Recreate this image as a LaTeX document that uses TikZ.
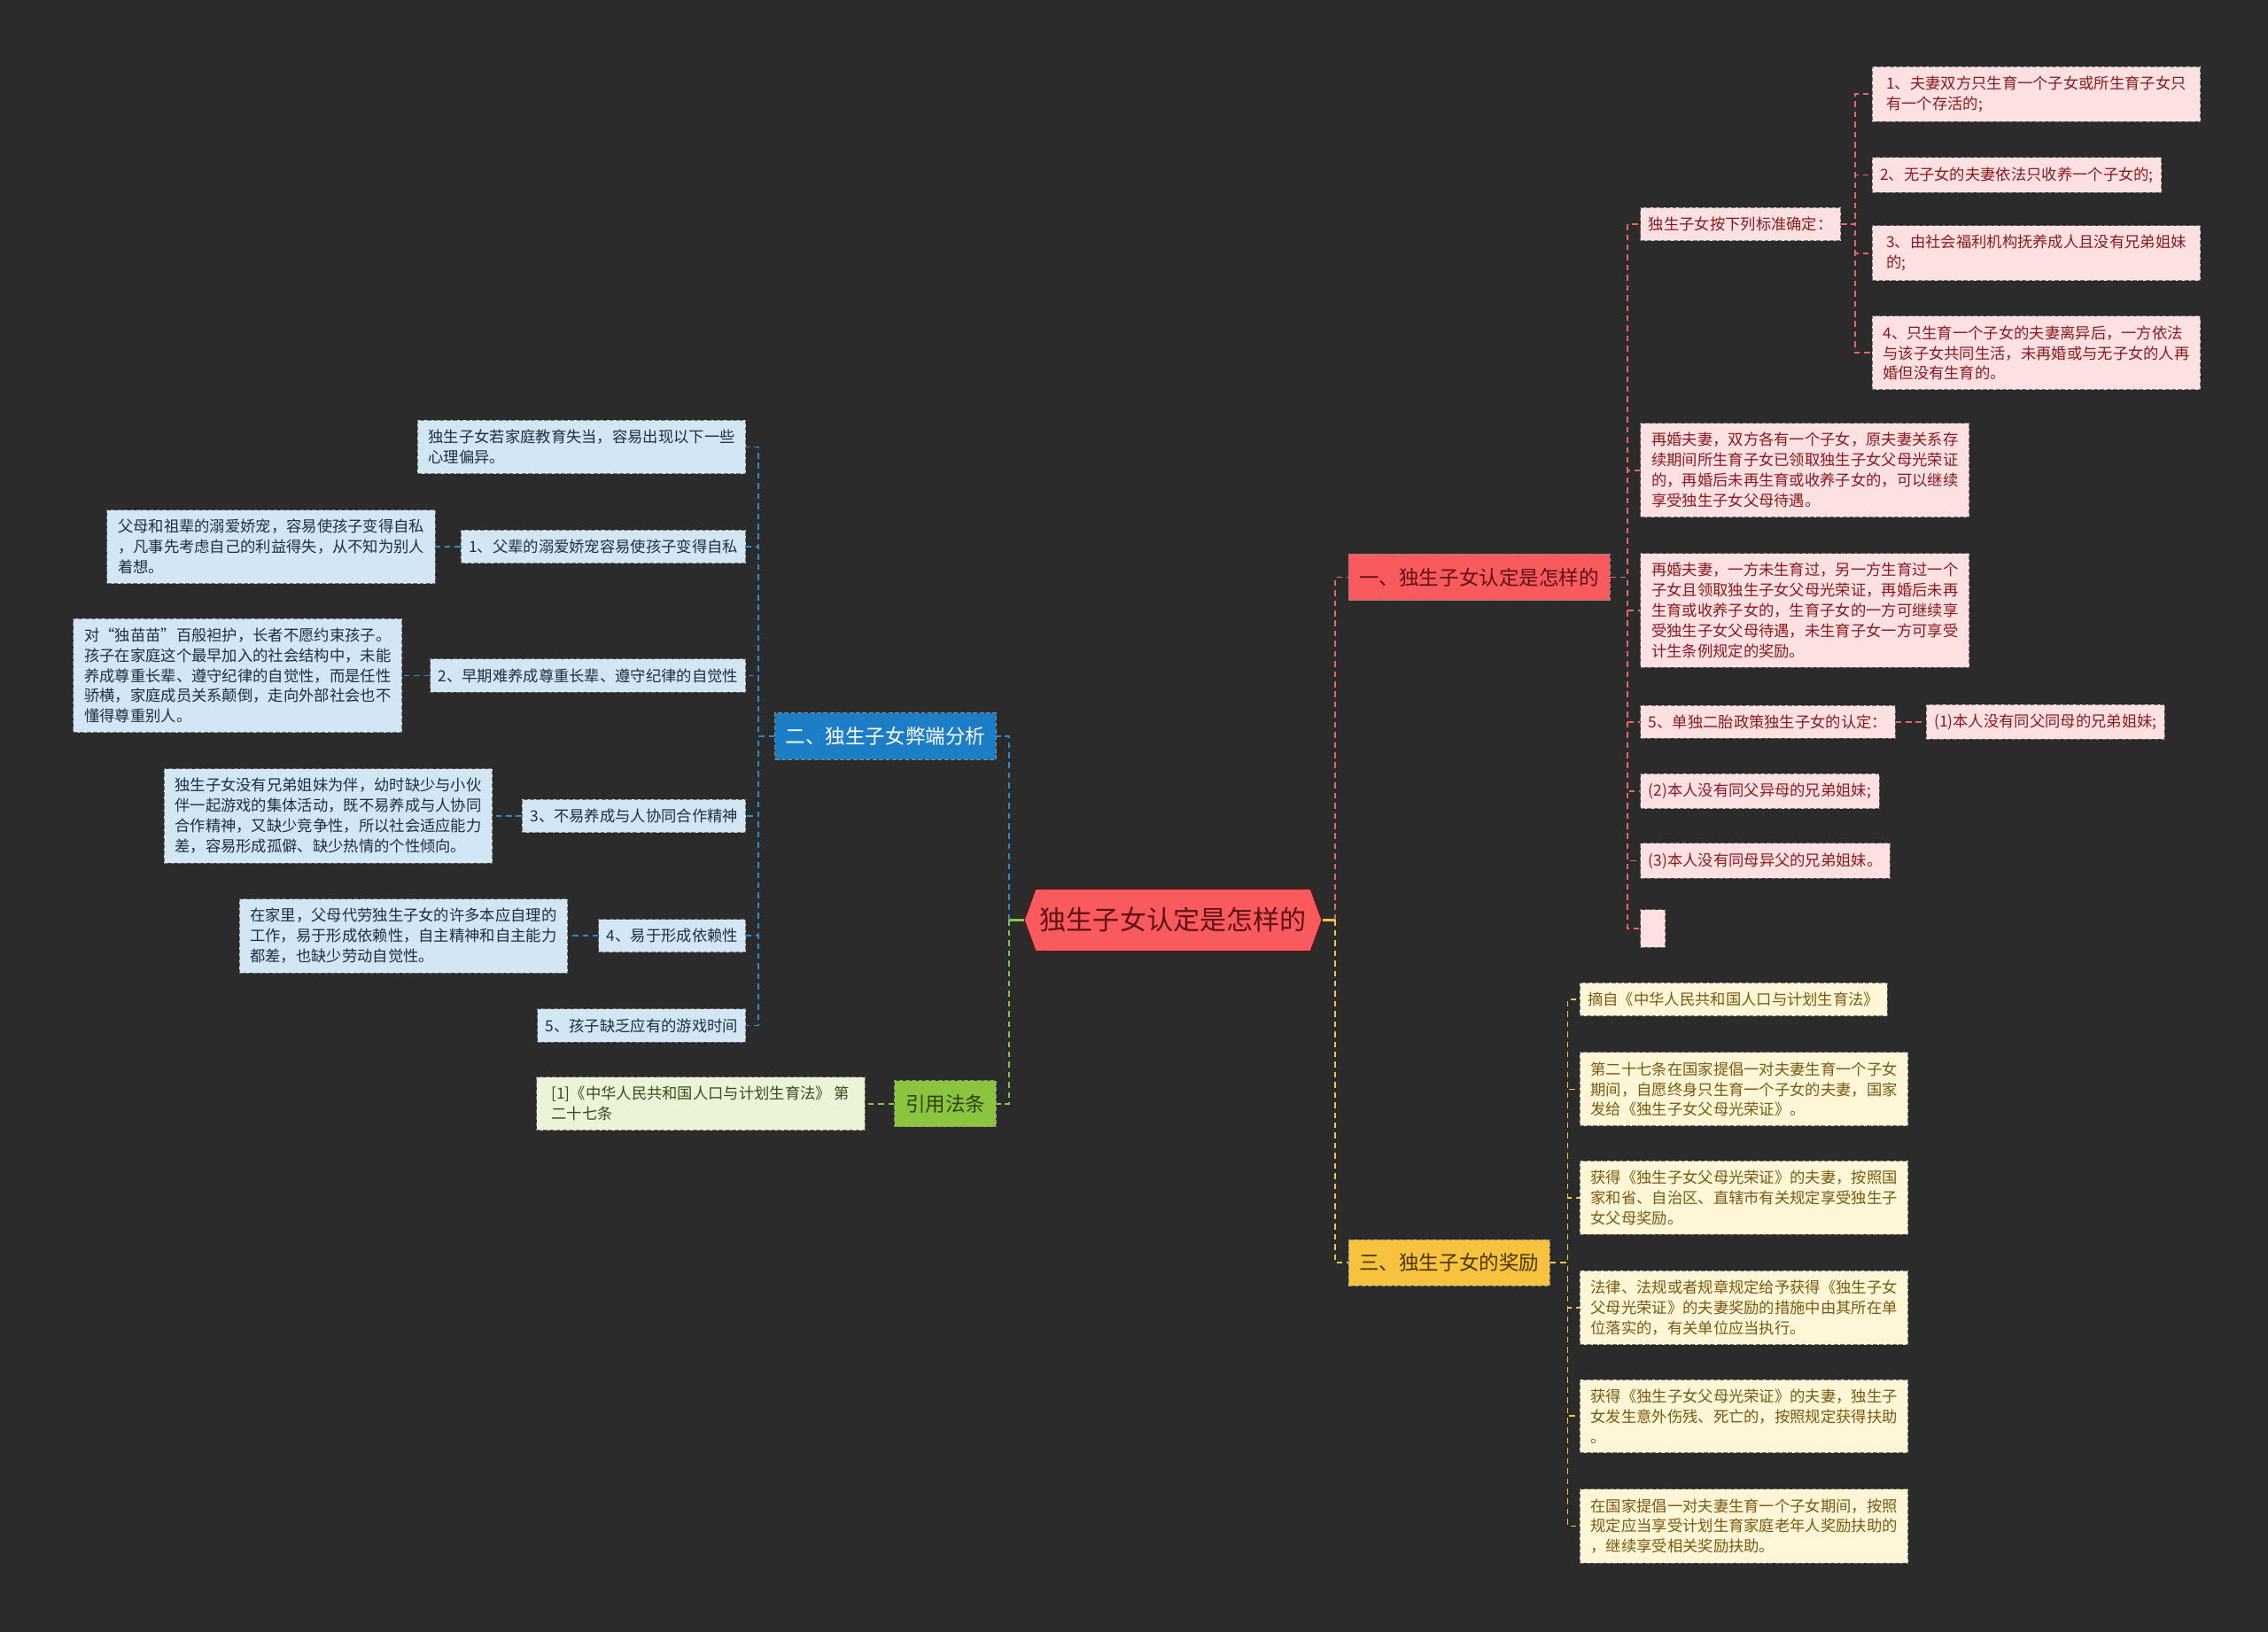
\documentclass[tikz,border=0pt]{standalone}
\usepackage{fontspec}
\setmainfont{Noto Sans CJK SC}
\usetikzlibrary{positioning,shapes.symbols}

\definecolor{bgdark}{HTML}{2B2B2B}
\definecolor{redfill}{HTML}{F85A5E}
\definecolor{redtext}{HTML}{5E1013}
\definecolor{pinkfill}{HTML}{FDE1E2}
\definecolor{pinktext}{HTML}{8C1A1D}
\definecolor{bluefill}{HTML}{1C7EC6}
\definecolor{lbluefill}{HTML}{D3E6F3}
\definecolor{bluetext}{HTML}{1F2F3F}
\definecolor{yelfill}{HTML}{F7C23E}
\definecolor{yeltext}{HTML}{4A3500}
\definecolor{lyelfill}{HTML}{FFF6D8}
\definecolor{lyeltext}{HTML}{7A5A10}
\definecolor{grnfill}{HTML}{8BC43F}
\definecolor{grntext}{HTML}{2F4010}
\definecolor{lgrnfill}{HTML}{EBF4D8}
\definecolor{lgrntext}{HTML}{3A4A20}
\definecolor{linkred}{HTML}{EE6464}
\definecolor{linkblue}{HTML}{2B8BD3}
\definecolor{linkyel}{HTML}{F3C44A}
\definecolor{linkgrn}{HTML}{8BC43F}

\begin{document}
\begin{tikzpicture}[
  x=1pt, y=-1pt,
  leaf/.style={draw=black!55, dash pattern=on 3pt off 1.5pt, line width=0.6pt,
               align=left, inner xsep=5.5pt, inner ysep=6.5pt,
               font=\fontsize{10.6}{14}\selectfont},
  wide/.style={minimum width=227pt},
  redleaf/.style={leaf, fill=pinkfill, text=pinktext},
  blueleaf/.style={leaf, fill=lbluefill, text=bluetext},
  yelleaf/.style={leaf, fill=lyelfill, text=lyeltext},
  grnleaf/.style={leaf, fill=lgrnfill, text=lgrntext},
  branch/.style={draw=black!45, dash pattern=on 3pt off 1.5pt, line width=0.6pt,
                 inner xsep=7.5pt, minimum height=32pt,
                 font=\fontsize{13.8}{16}\selectfont},
  lk/.style={line width=1.1pt, dash pattern=on 4pt off 3pt},
  lkred/.style={lk, draw=linkred},
  lkblue/.style={lk, draw=linkblue},
  lkyel/.style={lk, draw=linkyel},
  lkgrn/.style={lk, draw=linkgrn}
]
\fill[bgdark] (0,0) rectangle (1568,1128);
\useasboundingbox (0,0) rectangle (1568,1128);

% root
\node[signal, signal to=west and east, signal pointer angle=140,
      fill=redfill, draw=redtext, line width=0.6pt, text=redtext,
      inner xsep=3pt, minimum height=43pt,
      font=\fontsize{18.4}{22}\selectfont] (root) at (811,636) {独生子女认定是怎样的};

% right: branch one
\node[branch, fill=redfill, text=redtext, anchor=west] (b1) at (932,399) {一、独生子女认定是怎样的};
\node[redleaf, anchor=west] (q) at (1134,155) {独生子女按下列标准确定：};
\node[redleaf, wide, anchor=west] (q1) at (1294,65) {1、夫妻双方只生育一个子女或所生育子女只\\有一个存活的;};
\node[redleaf, anchor=west] (q2) at (1294,121) {2、无子女的夫妻依法只收养一个子女的;};
\node[redleaf, wide, anchor=west] (q3) at (1294,175) {3、由社会福利机构抚养成人且没有兄弟姐妹\\的;};
\node[redleaf, wide, anchor=west] (q4) at (1294,244) {4、只生育一个子女的夫妻离异后，一方依法\\与该子女共同生活，未再婚或与无子女的人再\\婚但没有生育的。};
\node[redleaf, wide, anchor=west] (r1) at (1134,325) {再婚夫妻，双方各有一个子女，原夫妻关系存\\续期间所生育子女已领取独生子女父母光荣证\\的，再婚后未再生育或收养子女的，可以继续\\享受独生子女父母待遇。};
\node[redleaf, wide, anchor=west] (r2) at (1134,422) {再婚夫妻，一方未生育过，另一方生育过一个\\子女且领取独生子女父母光荣证，再婚后未再\\生育或收养子女的，生育子女的一方可继续享\\受独生子女父母待遇，未生育子女一方可享受\\计生条例规定的奖励。};
\node[redleaf, anchor=west] (s5) at (1134,499) {5、单独二胎政策独生子女的认定：};
\node[redleaf, right=21pt of s5] (s1) {(1)本人没有同父同母的兄弟姐妹;};
\node[redleaf, anchor=west] (s2) at (1134,547) {(2)本人没有同父异母的兄弟姐妹;};
\node[redleaf, anchor=west] (s3) at (1134,595) {(3)本人没有同母异父的兄弟姐妹。};
\node[redleaf, anchor=west, inner sep=0pt, minimum width=17pt, minimum height=26pt] (sx) at (1134,642) {};

% right: branch three
\node[branch, fill=yelfill, text=yeltext, anchor=west] (b3) at (932,873) {三、独生子女的奖励};
\node[yelleaf, anchor=west] (c1) at (1092,691) {摘自《中华人民共和国人口与计划生育法》};
\node[yelleaf, wide, anchor=west] (c2) at (1092,753) {第二十七条在国家提倡一对夫妻生育一个子女\\期间，自愿终身只生育一个子女的夫妻，国家\\发给《独生子女父母光荣证》。};
\node[yelleaf, wide, anchor=west] (c3) at (1092,828) {获得《独生子女父母光荣证》的夫妻，按照国\\家和省、自治区、直辖市有关规定享受独生子\\女父母奖励。};
\node[yelleaf, wide, anchor=west] (c4) at (1092,904) {法律、法规或者规章规定给予获得《独生子女\\父母光荣证》的夫妻奖励的措施中由其所在单\\位落实的，有关单位应当执行。};
\node[yelleaf, wide, anchor=west] (c5) at (1092,979) {获得《独生子女父母光荣证》的夫妻，独生子\\女发生意外伤残、死亡的，按照规定获得扶助\\。};
\node[yelleaf, wide, anchor=west] (c6) at (1092,1055) {在国家提倡一对夫妻生育一个子女期间，按照\\规定应当享受计划生育家庭老年人奖励扶助的\\，继续享受相关奖励扶助。};

% left: branch two
\node[branch, fill=bluefill, text=white, anchor=east] (b2) at (689,509) {二、独生子女弊端分析};
\node[blueleaf, wide, anchor=east] (d0) at (516,309) {独生子女若家庭教育失当，容易出现以下一些\\心理偏异。};
\node[blueleaf, anchor=east] (d1) at (516,378) {1、父辈的溺爱娇宠容易使孩子变得自私};
\node[blueleaf, wide, left=17pt of d1] (e1) {父母和祖辈的溺爱娇宠，容易使孩子变得自私\\，凡事先考虑自己的利益得失，从不知为别人\\着想。};
\node[blueleaf, anchor=east] (d2) at (516,467) {2、早期难养成尊重长辈、遵守纪律的自觉性};
\node[blueleaf, wide, left=19pt of d2] (e2) {对“独苗苗”百般袒护，长者不愿约束孩子。\\孩子在家庭这个最早加入的社会结构中，未能\\养成尊重长辈、遵守纪律的自觉性，而是任性\\骄横，家庭成员关系颠倒，走向外部社会也不\\懂得尊重别人。};
\node[blueleaf, anchor=east] (d3) at (516,564) {3、不易养成与人协同合作精神};
\node[blueleaf, wide, left=20pt of d3] (e3) {独生子女没有兄弟姐妹为伴，幼时缺少与小伙\\伴一起游戏的集体活动，既不易养成与人协同\\合作精神，又缺少竞争性，所以社会适应能力\\差，容易形成孤僻、缺少热情的个性倾向。};
\node[blueleaf, anchor=east] (d4) at (516,647) {4、易于形成依赖性};
\node[blueleaf, wide, left=21pt of d4] (e4) {在家里，父母代劳独生子女的许多本应自理的\\工作，易于形成依赖性，自主精神和自主能力\\都差，也缺少劳动自觉性。};
\node[blueleaf, anchor=east] (d5) at (516,709) {5、孩子缺乏应有的游戏时间};

% left: cited law
\node[branch, fill=grnfill, text=grntext, anchor=east] (law) at (689,763) {引用法条};
\node[grnleaf, wide, left=20pt of law] (lawref) {[1]《中华人民共和国人口与计划生育法》 第\\二十七条};

% connectors
\draw[linkyel, line width=1.4pt] (root.east) -- ++(9,0) coordinate (rj);
\draw[linkgrn, line width=1.4pt] (root.west) -- ++(-10,0) coordinate (lj);
\draw[lkred] (rj) |- (b1.west);
\draw[lkyel] (rj) |- (b3.west);
\draw[lkblue] (lj) |- (b2.east);
\draw[lkgrn] (lj) |- (law.east);
\foreach \n in {q,r1,r2,s5,s2,s3,sx}
  \draw[lkred] (b1.east) -- ++(12,0) |- (\n.west);
\foreach \n in {q1,q2,q3,q4}
  \draw[lkred] (q.east) -- ++(10,0) |- (\n.west);
\draw[lkred] (s5) -- (s1);
\foreach \n in {c1,c2,c3,c4,c5,c6}
  \draw[lkyel] (b3.east) -- ++(12,0) |- (\n.west);
\foreach \n in {d0,d1,d2,d3,d4,d5}
  \draw[lkblue] (b2.west) -- ++(-11,0) |- (\n.east);
\foreach \n in {1,2,3,4}
  \draw[lkblue] (d\n) -- (e\n);
\draw[lkgrn] (law) -- (lawref);
\end{tikzpicture}
\end{document}
